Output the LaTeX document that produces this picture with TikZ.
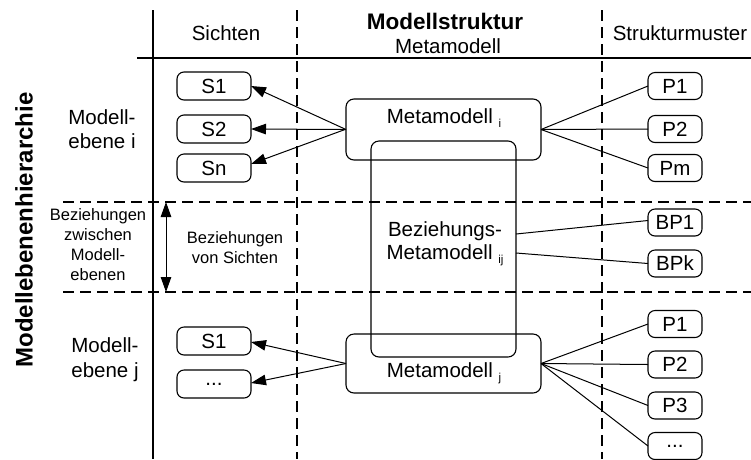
\documentclass[tikz,border=0pt]{standalone}
\usepackage{fontspec}
\setmainfont{Liberation Sans}
\usetikzlibrary{arrows.meta}
% small lowered index used in the model names
\newcommand\lvlsub[1]{\raisebox{-4pt}{\fontsize{11.5}{12}\selectfont #1}}
\begin{document}
\begin{tikzpicture}[x=1pt,y=-1pt,
  every node/.style={inner sep=0pt, outer sep=0pt},
  txt/.style={font=\fontsize{20.5}{23}\selectfont, align=center},
  smalltxt/.style={font=\fontsize{16.5}{20}\selectfont, align=center},
  pill/.style={draw, rounded corners=7pt, minimum width=74pt, minimum height=28pt,
    font=\fontsize{20.5}{23}\selectfont, line width=1.1pt},
  pbox/.style={pill, minimum width=54pt, minimum height=27pt},
  mbox/.style={draw, rounded corners=8pt, line width=1.1pt},
  dashline/.style={line width=2.2pt, dash pattern=on 11pt off 6pt},
  gridline/.style={line width=1.1pt},
  arr/.style={-{Triangle[length=15pt,width=10.5pt]}, line width=1pt},
  biarr/.style={{Triangle[length=15pt,width=10.5pt]}-{Triangle[length=15pt,width=10.5pt]}, line width=1pt},
  link/.style={line width=1pt},
]
\useasboundingbox (0,0) rectangle (751,459);

% table grid
\draw[gridline] (153,10) -- (153,459);
\draw[gridline] (137,58) -- (751,58);
\draw[dashline] (297,10) -- (297,459);
\draw[dashline] (602,10) -- (602,459);
\draw[dashline] (63,202) -- (751,202);
\draw[dashline] (63,292) -- (751,292);

% column headers
\node[txt] (hsicht) at (226,33) {Sichten};
\node[font=\fontsize{22.5}{26}\bfseries\selectfont] (hstruct) at (445,21) {Modellstruktur};
\node[txt] (hmeta) at (448,46) {Metamodell};
\node[txt] (hmuster) at (680,33) {Strukturmuster};

% row headers
\node[font=\fontsize{24}{28}\bfseries\selectfont, rotate=90] (hhier) at (24,230) {Modellebenenhierarchie};
\node[txt, align=left, font=\fontsize{20.5}{24}\selectfont] (rowi) at (102,129) {Modell-\\ebene i};
\node[smalltxt] (rowbz) at (98,245) {Beziehungen\\zwischen\\Modell-\\ebenen};
\node[txt, align=left, font=\fontsize{20.5}{25}\selectfont] (rowj) at (105,360) {Modell-\\ebene j};
\node[smalltxt] (bzsicht) at (235,248) {Beziehungen\\von Sichten};

% arrow between the two model levels
\coordinate (lvtop) at (166,202);
\coordinate (lvbot) at (166,292);
\draw[biarr] (lvtop) -- (lvbot);

% metamodel boxes
\node[mbox, minimum width=195pt, minimum height=61pt] (mi) at (443.5,129.5) {};
\node[mbox, minimum width=145pt, minimum height=216pt] (bz) at (443.5,249) {};
\node[mbox, minimum width=195pt, minimum height=59pt] (mj) at (443.5,363.5) {};
\node[txt] (mitxt) at (444,118) {Metamodell \lvlsub{i}};
\node[txt, font=\fontsize{20.5}{23}\selectfont] (bztxt) at (445,243.5) {Beziehungs-\\Metamodell \lvlsub{ij}};
\node[txt] (mjtxt) at (444,373) {Metamodell \lvlsub{j}};

% views
\node[pill] (si1) at (214,86) {S1};
\node[pill] (si2) at (214,129) {S2};
\node[pill] (sin) at (214,168) {Sn};
\node[pill] (sj1) at (214,341) {S1};
\node[pill] (sjd) at (214,384) {...};

% structure patterns
\node[pbox] (pi1) at (675,86) {P1};
\node[pbox] (pi2) at (675,129) {P2};
\node[pbox] (pim) at (675,168) {Pm};
\node[pbox] (bp1) at (675,222.5) {BP1};
\node[pbox] (bpk) at (675,263.5) {BPk};
\node[pbox] (pj1) at (675,324) {P1};
\node[pbox] (pj2) at (675,364.5) {P2};
\node[pbox] (pj3) at (675,405.5) {P3};
\node[pbox] (pjd) at (675,446) {...};

% metamodel i -> views and patterns
\draw[arr] (mi.west) -- (si1.east);
\draw[arr] (mi.west) -- (si2.east);
\draw[arr] ([xshift=-1pt]mi.west) -- ([yshift=4pt]sin.east);
\draw[link] (mi.east) -- (pi1.west);
\draw[link] (mi.east) -- (pi2.west);
\draw[link] (mi.east) -- (pim.west);

% relation metamodel -> relation patterns
\draw[link] ([yshift=15pt]bz.east) -- ([yshift=2pt]bp1.west);
\draw[link] ([yshift=-4pt]bz.east) -- (bpk.west);

% metamodel j -> views and patterns
\draw[arr] (mj.west) -- ([yshift=-1pt]sj1.east);
\draw[arr] (mj.west) -- ([yshift=1pt]sjd.east);
\draw[link] (mj.east) -- (pj1.west);
\draw[link] (mj.east) -- (pj2.west);
\draw[link] (mj.east) -- (pj3.west);
\draw[link] (mj.east) -- (pjd.west);
\end{tikzpicture}
\end{document}
